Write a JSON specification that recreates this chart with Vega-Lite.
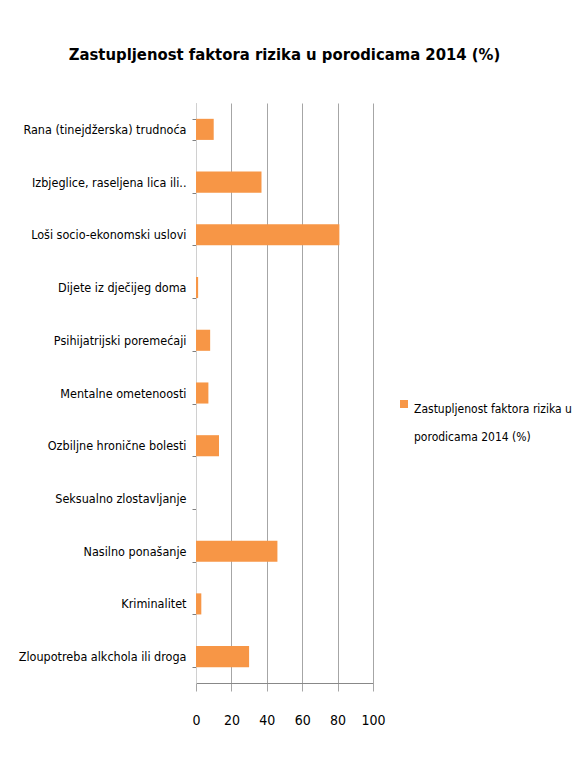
{
  "$schema": "https://vega.github.io/schema/vega-lite/v6.json",
  "width": 177,
  "height": 580,
  "autosize": {"type": "none"},
  "padding": {"left": 196, "top": 103, "right": 204, "bottom": 75},
  "background": "white",
  "title": {
    "text": "Zastupljenost faktora rizika u porodicama 2014 (%)",
    "font": "DejaVu Sans Condensed",
    "fontSize": 16.5,
    "fontWeight": "bold",
    "color": "#000000",
    "anchor": "middle",
    "offset": 34
  },
  "data": {
    "values": [
      {"kategorija": "Rana (tinejdžerska) trudnoća", "vrijednost": 10, "serija": "Zastupljenost faktora rizika u porodicama 2014 (%)"},
      {"kategorija": "Izbjeglice, raseljena lica ili..", "vrijednost": 37, "serija": "Zastupljenost faktora rizika u porodicama 2014 (%)"},
      {"kategorija": "Loši socio-ekonomski uslovi", "vrijednost": 81, "serija": "Zastupljenost faktora rizika u porodicama 2014 (%)"},
      {"kategorija": "Dijete iz dječijeg doma", "vrijednost": 1.2, "serija": "Zastupljenost faktora rizika u porodicama 2014 (%)"},
      {"kategorija": "Psihijatrijski poremećaji", "vrijednost": 8, "serija": "Zastupljenost faktora rizika u porodicama 2014 (%)"},
      {"kategorija": "Mentalne ometenoosti", "vrijednost": 7, "serija": "Zastupljenost faktora rizika u porodicama 2014 (%)"},
      {"kategorija": "Ozbiljne hronične bolesti", "vrijednost": 13, "serija": "Zastupljenost faktora rizika u porodicama 2014 (%)"},
      {"kategorija": "Seksualno zlostavljanje", "vrijednost": 0, "serija": "Zastupljenost faktora rizika u porodicama 2014 (%)"},
      {"kategorija": "Nasilno ponašanje", "vrijednost": 46, "serija": "Zastupljenost faktora rizika u porodicama 2014 (%)"},
      {"kategorija": "Kriminalitet", "vrijednost": 3, "serija": "Zastupljenost faktora rizika u porodicama 2014 (%)"},
      {"kategorija": "Zloupotreba alkchola ili droga", "vrijednost": 30, "serija": "Zastupljenost faktora rizika u porodicama 2014 (%)"}
    ]
  },
  "mark": {"type": "bar"},
  "encoding": {
    "y": {
      "field": "kategorija",
      "type": "nominal",
      "sort": null,
      "scale": {"paddingInner": 0.6, "paddingOuter": 0.3},
      "axis": {
        "title": null,
        "tickBand": "extent",
        "tickSize": 4,
        "tickColor": "#808080",
        "domainColor": "#d0d0d0",
        "labelFont": "DejaVu Sans Condensed",
        "labelFontSize": 12.5,
        "labelColor": "#000000",
        "labelPadding": 6,
        "labelLimit": 200
      }
    },
    "x": {
      "field": "vrijednost",
      "type": "quantitative",
      "scale": {"domain": [0, 100], "nice": false},
      "axis": {
        "title": null,
        "values": [0, 20, 40, 60, 80, 100],
        "grid": true,
        "gridColor": "#a6a6a6",
        "tickSize": 8,
        "tickColor": "#a6a6a6",
        "domainColor": "#888888",
        "labelFont": "DejaVu Sans Condensed",
        "labelFontSize": 14,
        "labelColor": "#000000",
        "labelPadding": 22,
        "labelOverlap": false,
        "labelFlush": false
      }
    },
    "color": {
      "field": "serija",
      "type": "nominal",
      "scale": {"range": ["#F79646"]},
      "legend": {
        "title": null,
        "orient": "none",
        "legendX": 202,
        "legendY": 295,
        "symbolType": "square",
        "symbolSize": 64,
        "symbolStrokeWidth": 0,
        "labelFont": "DejaVu Sans Condensed",
        "labelFontSize": 12,
        "labelColor": "#000000",
        "labelBaseline": "top",
        "labelLimit": 200,
        "labelExpr": "['Zastupljenost faktora rizika u', 'porodicama 2014 (%)']",
        "encode": {"labels": {"update": {"lineHeight": {"value": 28}}}}
      }
    }
  },
  "config": {
    "view": {"stroke": null}
  }
}
